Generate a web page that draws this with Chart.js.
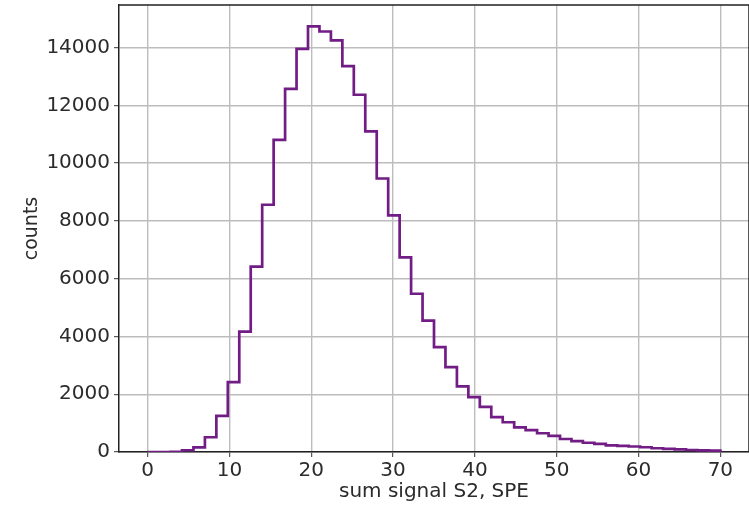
<!DOCTYPE html>
<html>
<head>
<meta charset="utf-8">
<title>sum signal S2</title>
<script src="https://cdn.jsdelivr.net/npm/chart.js@4/dist/chart.umd.min.js"></script>
<style>
  html, body { margin: 0; padding: 0; background: #ffffff; }
  canvas { display: block; }
</style>
</head>
<body>
<canvas id="hist" width="749" height="507"></canvas>
<script>
// histogram bin edges (SPE) and counts per bin
const binEdges = [
    0, 1.4, 2.8, 4.2, 5.6, 7, 8.4, 9.8, 11.2, 12.6,
    14, 15.4, 16.8, 18.2, 19.6, 21, 22.4, 23.8, 25.2, 26.6,
    28, 29.4, 30.8, 32.2, 33.6, 35, 36.4, 37.8, 39.2, 40.6,
    42, 43.4, 44.8, 46.2, 47.6, 49, 50.4, 51.8, 53.2, 54.6,
    56, 57.4, 58.8, 60.2, 61.6, 63, 64.4, 65.8, 67.2, 68.6, 70
];
const binCounts = [
    0, 0, 5, 60, 160, 510, 1250, 2420, 4170, 6420,
    8560, 10810, 12570, 13960, 14740, 14560, 14250, 13360, 12370, 11100,
    9470, 8190, 6740, 5480, 4550, 3630, 2940, 2270, 1900, 1560,
    1210, 1030, 850, 760, 650, 555, 450, 380, 320, 280,
    230, 210, 190, 165, 130, 110, 90, 70, 55, 45
];
const xTicks = [0, 10, 20, 30, 40, 50, 60, 70];
const yTicks = [0, 2000, 4000, 6000, 8000, 10000, 12000, 14000];

// outline of a step histogram: up from zero at the first edge, down at the last
const stepPoints = [{ x: binEdges[0], y: 0 }];
binCounts.forEach((c, i) => stepPoints.push({ x: binEdges[i], y: c }));
stepPoints.push({ x: binEdges[binEdges.length - 1], y: binCounts[binCounts.length - 1] });
stepPoints.push({ x: binEdges[binEdges.length - 1], y: 0 });

const xSpan = binEdges[binEdges.length - 1] - binEdges[0];
const yTop = Math.max(...binCounts) * 1.05;

const textColor = '#2b2b2b';
const gridColor = '#bdbdbd';
const fontFamily = '"DejaVu Sans", sans-serif';

// top and right spines, Chart.js only draws the axis borders
const frame = {
    id: 'frame',
    afterDraw(chart) {
        const { ctx, chartArea: a } = chart;
        ctx.save();
        ctx.strokeStyle = '#222222';
        ctx.lineWidth = 1.5;
        ctx.beginPath();
        ctx.moveTo(a.left, a.top);
        ctx.lineTo(a.right, a.top);
        ctx.lineTo(a.right, a.bottom);
        ctx.stroke();
        ctx.restore();
    }
};

// no extra room for half tick labels, the frame sits at the layout padding
function noLabelPadding(scale) {
    scale.paddingTop = 0;
    scale.paddingBottom = 0;
    scale.paddingLeft = 0;
    scale.paddingRight = 0;
}

new Chart(document.getElementById('hist').getContext('2d'), {
    type: 'line',
    data: {
        datasets: [{
            data: stepPoints,
            stepped: true,
            borderColor: '#721c85',
            borderWidth: 2.7,
            pointRadius: 0,
            fill: false
        }]
    },
    options: {
        responsive: false,
        animation: false,
        layout: { padding: { top: 5, right: 0, left: 0, bottom: 0 } },
        plugins: {
            legend: { display: false },
            tooltip: { enabled: false }
        },
        scales: {
            x: {
                type: 'linear',
                min: binEdges[0] - xSpan * 0.05,
                max: binEdges[binEdges.length - 1] + xSpan * 0.05,
                afterBuildTicks: scale => { scale.ticks = xTicks.map(v => ({ value: v })); },
                afterFit: scale => { scale.height = 55; noLabelPadding(scale); },
                grid: { color: gridColor, lineWidth: 1.4, tickLength: 5, tickColor: '#333333', tickWidth: 1 },
                border: { color: '#222222', width: 1.5 },
                ticks: {
                    color: textColor,
                    padding: 2,
                    maxRotation: 0,
                    callback: v => String(v),
                    font: { family: fontFamily, size: 20 }
                },
                title: {
                    display: true,
                    text: 'sum signal S2, SPE',
                    color: textColor,
                    padding: { top: 0, bottom: 3 },
                    font: { family: fontFamily, size: 20 }
                }
            },
            y: {
                min: 0,
                max: yTop,
                afterBuildTicks: scale => { scale.ticks = yTicks.map(v => ({ value: v })); },
                afterFit: scale => { scale.width = 119; noLabelPadding(scale); },
                grid: { color: gridColor, lineWidth: 1.4, tickLength: 5, tickColor: '#333333', tickWidth: 1 },
                border: { color: '#222222', width: 1.5 },
                ticks: {
                    color: textColor,
                    padding: 4,
                    callback: v => String(v),
                    font: { family: fontFamily, size: 20 }
                },
                title: {
                    display: true,
                    text: 'counts',
                    color: textColor,
                    padding: { top: 21, bottom: 0 },
                    font: { family: fontFamily, size: 19 }
                }
            }
        }
    },
    plugins: [frame]
});
</script>
</body>
</html>
